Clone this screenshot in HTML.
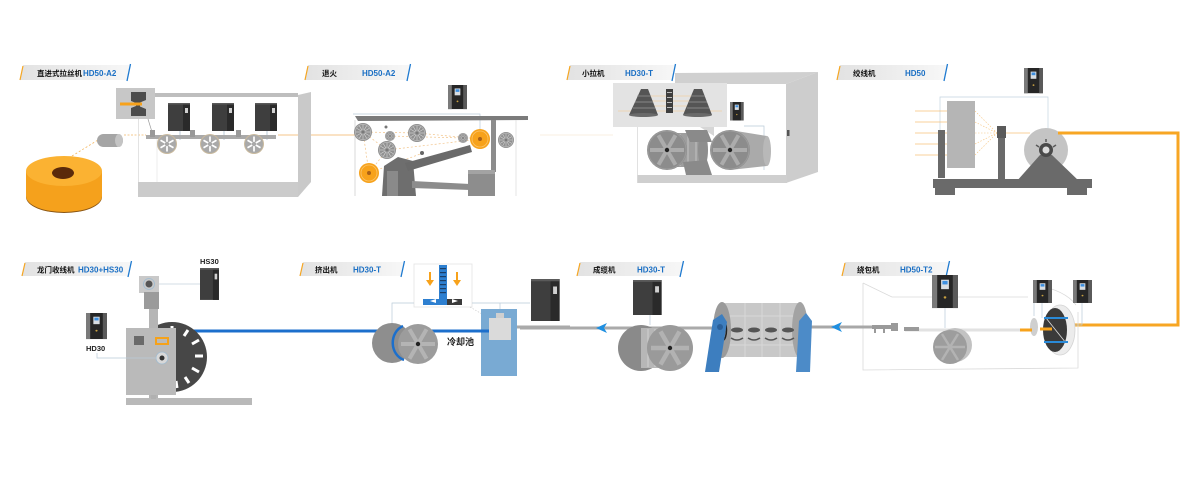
<!DOCTYPE html>
<html><head><meta charset="utf-8">
<style>
html,body{margin:0;padding:0;background:#fff;}
svg{display:block;}
text{font-family:"Liberation Sans","Noto Sans CJK SC",sans-serif;font-weight:bold;}
</style></head><body>
<svg width="1200" height="492" viewBox="0 0 1200 492" xmlns="http://www.w3.org/2000/svg">
<defs>
 <linearGradient id="lg" x1="0" x2="1"><stop offset="0" stop-color="#e2e2e2"/><stop offset="1" stop-color="#f7f7f7"/></linearGradient>
 <linearGradient id="lb" x1="0" x2="1"><stop offset="0" stop-color="#f5a623"/><stop offset="0.55" stop-color="#b8c4cc"/><stop offset="1" stop-color="#1f7ad0"/></linearGradient>
 <g id="inv">
  <rect x="0" y="0" width="20" height="28" fill="#262626"/>
  <rect x="0" y="0" width="4" height="28" fill="#7a7a7a"/>
  <rect x="16" y="0" width="4" height="28" fill="#5a5a5a"/>
  <rect x="7" y="4" width="6" height="8" fill="#d8dde2"/>
  <rect x="8" y="5" width="4" height="3" fill="#3d8fe0"/>
  <circle cx="10" cy="19" r="1" fill="#c8a040"/>
 </g>
 <g id="invD">
  <rect x="0" y="0" width="22" height="28" fill="#3e3e3e"/>
  <rect x="15" y="0" width="7" height="28" fill="#2a2a2a"/>
  <rect x="17" y="5" width="3" height="5" fill="#d0d0d0"/>
  <rect x="0" y="0" width="22" height="1.5" fill="#5a5a5a"/>
 </g>
 <g id="wh">
  <circle r="10" fill="#c9b99c"/><circle r="9" fill="#a9a9a9"/>
  <g stroke="#fff" stroke-width="1.7"><line x1="0" y1="-7.5" x2="0" y2="7.5"/><line x1="-6.5" y1="-3.75" x2="6.5" y2="3.75"/><line x1="6.5" y1="-3.75" x2="-6.5" y2="3.75"/></g>
  <circle r="2.2" fill="#a9a9a9"/>
 </g>
 <g id="ws">
  <circle r="10" fill="#909090"/><circle r="8.5" fill="none" stroke="#b8b8b8" stroke-width="0.8"/>
  <g stroke="#d4d4d4" stroke-width="0.7"><line x1="-8" y1="0" x2="8" y2="0"/><line x1="0" y1="-8" x2="0" y2="8"/><line x1="-6.9" y1="-4" x2="6.9" y2="4"/><line x1="-6.9" y1="4" x2="6.9" y2="-4"/><line x1="-4" y1="-6.9" x2="4" y2="6.9"/><line x1="4" y1="-6.9" x2="-4" y2="6.9"/></g>
  <circle r="2" fill="#7a7a7a"/>
 </g>
 <g id="wo">
  <circle r="10" fill="#f7a21b"/><circle r="8" fill="none" stroke="#fbc46a" stroke-width="0.8"/>
  <circle r="2" fill="#a86018"/>
 </g>
 <g id="dr">
  <circle r="20" fill="#8c8c8c"/><circle r="19" fill="none" stroke="#9c9c9c" stroke-width="1"/>
  <g stroke="#acacac" stroke-width="4"><line x1="-17" y1="0" x2="17" y2="0"/><line x1="-8.5" y1="-14.7" x2="8.5" y2="14.7"/><line x1="8.5" y1="-14.7" x2="-8.5" y2="14.7"/></g>
  <circle r="2.2" fill="#222"/>
 </g>
</defs>

<!-- ================= LABELS ================= -->
<g transform="translate(20,65)">
 <polygon points="3,0 110,0 107,15 0,15" fill="url(#lg)"/>
 <line x1="0" y1="15" x2="3" y2="1" stroke="#f5a623" stroke-width="1.2"/>
 <line x1="107" y1="16" x2="110.5" y2="-1" stroke="#1f7ad0" stroke-width="1.3"/>
 <line x1="0" y1="15.5" x2="107" y2="15.5" stroke="url(#lb)" stroke-width="1"/>
 <text x="17" y="11" font-size="7.5" fill="#111">直进式拉丝机</text>
 <text x="63" y="11" font-size="8" fill="#1a6fc4">HD50-A2</text>
</g>
<g transform="translate(305,65)">
 <polygon points="3,0 105,0 102,15 0,15" fill="url(#lg)"/>
 <line x1="0" y1="15" x2="3" y2="1" stroke="#f5a623" stroke-width="1.2"/>
 <line x1="102" y1="16" x2="105.5" y2="-1" stroke="#1f7ad0" stroke-width="1.3"/>
 <line x1="0" y1="15.5" x2="102" y2="15.5" stroke="url(#lb)" stroke-width="1"/>
 <text x="17" y="11" font-size="7.5" fill="#111">退火</text>
 <text x="57" y="11" font-size="8" fill="#1a6fc4">HD50-A2</text>
</g>
<g transform="translate(567,65)">
 <polygon points="3,0 108,0 105,15 0,15" fill="url(#lg)"/>
 <line x1="0" y1="15" x2="3" y2="1" stroke="#f5a623" stroke-width="1.2"/>
 <line x1="105" y1="16" x2="108.5" y2="-1" stroke="#1f7ad0" stroke-width="1.3"/>
 <line x1="0" y1="15.5" x2="105" y2="15.5" stroke="url(#lb)" stroke-width="1"/>
 <text x="15" y="11" font-size="7.5" fill="#111">小拉机</text>
 <text x="58" y="11" font-size="8" fill="#1a6fc4">HD30-T</text>
</g>
<g transform="translate(837,65)">
 <polygon points="3,0 110,0 107,15 0,15" fill="url(#lg)"/>
 <line x1="0" y1="15" x2="3" y2="1" stroke="#f5a623" stroke-width="1.2"/>
 <line x1="107" y1="16" x2="110.5" y2="-1" stroke="#1f7ad0" stroke-width="1.3"/>
 <line x1="0" y1="15.5" x2="107" y2="15.5" stroke="url(#lb)" stroke-width="1"/>
 <text x="16" y="11" font-size="7.5" fill="#111">绞线机</text>
 <text x="68" y="11" font-size="8" fill="#1a6fc4">HD50</text>
</g>
<g transform="translate(22,262)">
 <polygon points="3,0 109,0 106,14 0,14" fill="url(#lg)"/>
 <line x1="0" y1="14" x2="3" y2="1" stroke="#f5a623" stroke-width="1.2"/>
 <line x1="106" y1="15" x2="109.5" y2="-1" stroke="#1f7ad0" stroke-width="1.3"/>
 <line x1="0" y1="14.5" x2="106" y2="14.5" stroke="url(#lb)" stroke-width="1"/>
 <text x="15" y="10.5" font-size="7.5" fill="#111">龙门收线机</text>
 <text x="56" y="10.5" font-size="8" fill="#1a6fc4">HD30+HS30</text>
</g>
<g transform="translate(300,262)">
 <polygon points="3,0 104,0 101,14 0,14" fill="url(#lg)"/>
 <line x1="0" y1="14" x2="3" y2="1" stroke="#f5a623" stroke-width="1.2"/>
 <line x1="101" y1="15" x2="104.5" y2="-1" stroke="#1f7ad0" stroke-width="1.3"/>
 <line x1="0" y1="14.5" x2="101" y2="14.5" stroke="url(#lb)" stroke-width="1"/>
 <text x="15" y="10.5" font-size="7.5" fill="#111">挤出机</text>
 <text x="53" y="10.5" font-size="8" fill="#1a6fc4">HD30-T</text>
</g>
<g transform="translate(577,262)">
 <polygon points="3,0 106,0 103,14 0,14" fill="url(#lg)"/>
 <line x1="0" y1="14" x2="3" y2="1" stroke="#f5a623" stroke-width="1.2"/>
 <line x1="103" y1="15" x2="106.5" y2="-1" stroke="#1f7ad0" stroke-width="1.3"/>
 <line x1="0" y1="14.5" x2="103" y2="14.5" stroke="url(#lb)" stroke-width="1"/>
 <text x="16" y="10.5" font-size="7.5" fill="#111">成缆机</text>
 <text x="60" y="10.5" font-size="8" fill="#1a6fc4">HD30-T</text>
</g>
<g transform="translate(842,262)">
 <polygon points="3,0 107,0 104,14 0,14" fill="url(#lg)"/>
 <line x1="0" y1="14" x2="3" y2="1" stroke="#f5a623" stroke-width="1.2"/>
 <line x1="104" y1="15" x2="107.5" y2="-1" stroke="#1f7ad0" stroke-width="1.3"/>
 <line x1="0" y1="14.5" x2="104" y2="14.5" stroke="url(#lb)" stroke-width="1"/>
 <text x="15" y="10.5" font-size="7.5" fill="#111">绕包机</text>
 <text x="58" y="10.5" font-size="8" fill="#1a6fc4">HD50-T2</text>
</g>

<!-- ================= MACHINE 1: drawing ================= -->
<ellipse cx="64" cy="197" rx="38" ry="16" fill="#8a5512"/>
<path d="M26,171 L26,196 A38,16 0 0 0 102,196 L102,171 Z" fill="#f5a11c"/>
<ellipse cx="64" cy="171" rx="38" ry="15" fill="#fbb232"/>
<ellipse cx="63" cy="173" rx="11" ry="6" fill="#5b2a0a"/>
<line x1="72" y1="156" x2="98" y2="140" stroke="#f5b55a" stroke-width="0.8" stroke-dasharray="2,2"/>
<rect x="97" y="134" width="26" height="13" rx="6.5" fill="#a5a5a5"/>
<ellipse cx="119" cy="140.5" rx="4" ry="6.5" fill="#c4c4c4"/>
<line x1="124" y1="135" x2="146" y2="135" stroke="#f4b96a" stroke-width="0.8" stroke-dasharray="2,1.5"/>
<line x1="278" y1="135" x2="355" y2="135" stroke="#f3b060" stroke-width="0.8"/>

<rect x="153" y="93" width="145" height="4" fill="#bebebe"/>
<line x1="138.5" y1="95" x2="138.5" y2="182" stroke="#dcdcdc" stroke-width="0.8"/>
<line x1="157" y1="136" x2="157" y2="182" stroke="#e2e2e2" stroke-width="0.6"/>
<polygon points="298,95 311,92 311,182 298,197" fill="#c9c9c9"/>
<rect x="138" y="182" width="160" height="15" fill="#cbcbcb"/>

<rect x="116" y="88" width="39" height="31" fill="#c7c7c7"/>
<path d="M131,92 L146,92 L146,100 L140,102.5 L140,106.5 L146,109 L146,116 L131,116 L131,108 L136,106 L136,103 L131,101 Z" fill="#4c4c4c"/>
<rect x="120" y="102.5" width="22" height="3" fill="#f7a21b"/>
<line x1="148" y1="119" x2="152" y2="132" stroke="#9a9a9a" stroke-width="0.7"/>

<use href="#invD" transform="translate(168,103)"/>
<use href="#invD" transform="translate(212,103)"/>
<use href="#invD" transform="translate(255,103)"/>
<g stroke="#9fb8cc" stroke-width="0.7">
 <line x1="180" y1="131" x2="180" y2="140"/><line x1="224" y1="131" x2="224" y2="140"/><line x1="267" y1="131" x2="267" y2="140"/>
</g>
<rect x="146" y="135" width="130" height="4" fill="#a9a9a9"/>
<rect x="150" y="130" width="5" height="7" fill="#999"/>
<rect x="190" y="130" width="5" height="7" fill="#999"/>
<rect x="236" y="130" width="5" height="7" fill="#999"/>
<use href="#wh" transform="translate(167,144)"/>
<use href="#wh" transform="translate(210,144)"/>
<use href="#wh" transform="translate(254,144)"/>

<!-- ================= MACHINE 2: annealing ================= -->
<use href="#inv" transform="translate(448,85) scale(0.95,0.86)"/>
<polyline points="353,114 480,114 480,129" fill="none" stroke="#b9cad8" stroke-width="0.7"/>
<polygon points="355,116 528,116 528,120 358,121" fill="#7b7b7b"/>
<line x1="355" y1="120" x2="355" y2="196" stroke="#d0d0d0" stroke-width="0.8"/>
<line x1="516" y1="120" x2="516" y2="196" stroke="#dedede" stroke-width="0.8"/>
<rect x="491" y="120" width="5" height="52" fill="#8c8c8c"/>
<g stroke="#f2c48a" stroke-width="0.7" stroke-dasharray="2,2" fill="none">
 <line x1="363" y1="132" x2="387" y2="150"/><line x1="387" y1="150" x2="369" y2="173"/><line x1="363" y1="132" x2="369" y2="173"/>
 <line x1="363" y1="132" x2="417" y2="133"/><line x1="417" y1="133" x2="480" y2="139"/><line x1="387" y1="150" x2="480" y2="139"/>
 <line x1="369" y1="173" x2="423" y2="153"/><line x1="390" y1="136" x2="463" y2="138"/>
</g>
<polygon points="382,196 384,166 398,157 413,161 416,196" fill="#6e6e6e"/>
<rect x="387" y="171" width="11" height="25" fill="#8a8a8a"/>
<polygon points="405,163 470,145 472,152 408,171" fill="#6a6a6a"/>
<polygon points="412,181 470,184 470,190 412,188" fill="#8c8c8c"/>
<rect x="468" y="170" width="27" height="26" fill="#8d8d8d"/>
<rect x="468" y="170" width="27" height="4" fill="#a3a3a3"/>
<use href="#ws" transform="translate(363,132) scale(0.9)"/>
<use href="#ws" transform="translate(390,136) scale(0.5)"/>
<use href="#ws" transform="translate(417,133) scale(0.9)"/>
<use href="#ws" transform="translate(387,150) scale(0.9)"/>
<use href="#ws" transform="translate(463,138) scale(0.5)"/>
<use href="#ws" transform="translate(506,140) scale(0.8)"/>
<use href="#wo" transform="translate(480,139)"/>
<use href="#wo" transform="translate(369,173)"/>
<circle cx="386" cy="127" r="1.5" fill="#777"/>
<circle cx="422" cy="153" r="2" fill="#666"/>

<!-- ================= MACHINE 3: small drawing ================= -->
<line x1="540" y1="135" x2="613" y2="135" stroke="#f3e0c6" stroke-width="0.6"/>
<polygon points="675,73 818,72 786,84 675,84" fill="#d0d0d0"/>
<polygon points="786,84 818,72 818,172 786,183" fill="#cdcdcd"/>
<rect x="787" y="130" width="2.5" height="6" fill="#555"/>
<rect x="637" y="175" width="150" height="8" fill="#cfcfcf"/>
<line x1="637.5" y1="127" x2="637.5" y2="183" stroke="#dadada" stroke-width="0.8"/>
<rect x="613" y="83" width="114" height="44" fill="#e3e3e3"/>
<g stroke="#f5c68a" stroke-width="0.6">
 <line x1="618" y1="111" x2="722" y2="111"/><line x1="640" y1="106" x2="705" y2="106"/><line x1="643" y1="101" x2="700" y2="101"/><line x1="646" y1="96" x2="697" y2="96"/>
</g>
<polygon points="641,89 648,89 658,115 629,115" fill="#555"/>
<ellipse cx="643.5" cy="115" rx="14.5" ry="2" fill="#6a6a6a"/>
<g stroke="#9a9a9a" stroke-width="0.7"><line x1="637" y1="96" x2="651" y2="96"/><line x1="635" y1="102" x2="653" y2="102"/><line x1="633" y1="108" x2="655" y2="108"/></g>
<polygon points="694,89 702,89 712,115 683,115" fill="#555"/>
<ellipse cx="697.5" cy="115" rx="14.5" ry="2" fill="#6a6a6a"/>
<g stroke="#9a9a9a" stroke-width="0.7"><line x1="691" y1="96" x2="705" y2="96"/><line x1="689" y1="102" x2="707" y2="102"/><line x1="687" y1="108" x2="709" y2="108"/></g>
<rect x="666" y="89" width="7" height="24" fill="#3e3e3e"/>
<g fill="#bbb"><rect x="667" y="92" width="5" height="1"/><rect x="667" y="97" width="5" height="1"/><rect x="667" y="102" width="5" height="1"/><rect x="667" y="107" width="5" height="1"/></g>
<polygon points="700,127 714,127 714,136" fill="#d6d6d6"/>
<use href="#inv" transform="translate(730,102) scale(0.68,0.66)"/>
<polyline points="744,126 764,126 764,170" fill="none" stroke="#b9cad8" stroke-width="0.7"/>
<rect x="667" y="133" width="36" height="34" fill="#9e9e9e"/>
<g stroke="#bdbdbd" stroke-width="1.2"><line x1="680" y1="134" x2="680" y2="166"/><line x1="688" y1="134" x2="688" y2="166"/><line x1="696" y1="135" x2="696" y2="165"/></g>
<ellipse cx="703" cy="150" rx="5" ry="17" fill="#8e8e8e"/>
<polygon points="685,130 707,130 712,142 690,142" fill="#8a8a8a"/>
<polygon points="683,162 707,160 712,175 686,175" fill="#8a8a8a"/>
<polygon points="730,130 767,136 767,166 730,170" fill="#aaaaaa"/>
<ellipse cx="767" cy="151" rx="4" ry="15" fill="#b8b8b8"/>
<use href="#dr" transform="translate(667,150)"/>
<use href="#dr" transform="translate(730,150)"/>

<!-- ================= MACHINE 4: stranding ================= -->
<use href="#inv" transform="translate(1024,68) scale(0.95,0.9)"/>
<polyline points="940,130 940,97 1048,97 1048,130" fill="none" stroke="#c3d3df" stroke-width="0.7"/>
<g stroke="#f6c27a" stroke-width="0.8">
 <line x1="915" y1="111" x2="947" y2="111"/><line x1="915" y1="122" x2="947" y2="122"/><line x1="915" y1="133" x2="947" y2="133"/><line x1="915" y1="144" x2="947" y2="144"/><line x1="915" y1="155" x2="947" y2="155"/>
</g>
<rect x="938" y="130" width="7" height="48" fill="#6a6a6a"/>
<rect x="947" y="101" width="28" height="67" fill="#b5b5b5"/>
<g stroke="#f6c27a" stroke-width="0.6" stroke-dasharray="1.5,1.5">
 <line x1="975" y1="111" x2="997" y2="133"/><line x1="975" y1="122" x2="997" y2="133"/><line x1="975" y1="133" x2="997" y2="133"/><line x1="975" y1="144" x2="997" y2="133"/><line x1="975" y1="155" x2="997" y2="133"/>
</g>
<line x1="1005" y1="133" x2="1030" y2="133" stroke="#f6c27a" stroke-width="0.8"/>
<rect x="998" y="126" width="7" height="54" fill="#6a6a6a"/>
<rect x="997" y="126" width="9" height="12" fill="#5a5a5a"/>
<circle cx="1046" cy="150" r="22" fill="#c4c4c4"/>
<polygon points="1016,182 1040,155 1052,155 1080,182" fill="#6a6a6a"/>
<circle cx="1046" cy="150" r="7" fill="#4a4a4a"/>
<circle cx="1046" cy="150" r="3.5" fill="#dcdcdc"/>
<g stroke="#5a5a5a" stroke-width="1.5"><line x1="1046" y1="139" x2="1046" y2="142"/><line x1="1036" y1="145" x2="1039" y2="147"/><line x1="1056" y1="145" x2="1053" y2="147"/></g>
<rect x="933" y="179" width="159" height="9" fill="#6a6a6a"/>
<rect x="935" y="186" width="20" height="9" fill="#6a6a6a"/>
<rect x="1067" y="186" width="20" height="9" fill="#6a6a6a"/>

<!-- orange loop -->
<polyline points="1058,133 1178,133 1178,325 1066,325" fill="none" stroke="#f7a623" stroke-width="3"/>

<!-- ================= MACHINE 8: wrapping ================= -->
<g stroke="#dadada" stroke-width="0.8" fill="none">
 <path d="M863,283 L892,297 L1028,297"/>
 <path d="M863,283 L863,370 L1078,368 L1078,312"/>
 <path d="M1035,285 Q1065,290 1076,305"/>
</g>
<use href="#inv" transform="translate(932,275) scale(1.3,1.18)"/>
<use href="#inv" transform="translate(1033,280) scale(0.95,0.82)"/>
<use href="#inv" transform="translate(1073,280) scale(0.95,0.82)"/>
<g stroke="#b9cad8" stroke-width="0.7" fill="none">
 <line x1="945" y1="308" x2="945" y2="328"/>
 <polyline points="1042,303 1042,318"/>
 <polyline points="1082,303 1082,325 1068,325"/>
 <line x1="1034" y1="303" x2="1034" y2="316"/>
</g>
<line x1="905" y1="330" x2="1022" y2="330" stroke="#e2e2e2" stroke-width="3"/>
<line x1="808" y1="327" x2="872" y2="327" stroke="#a8a8a8" stroke-width="3"/>
<g fill="#9a9a9a">
 <rect x="872" y="325" width="22" height="4"/><rect x="874" y="329" width="2" height="4"/><rect x="883" y="329" width="2" height="4"/>
 <rect x="891" y="323" width="7" height="8"/><rect x="904" y="327" width="15" height="4"/>
</g>
<ellipse cx="955" cy="345" rx="17" ry="17" fill="#c2c2c2"/>
<circle cx="950" cy="347" r="17" fill="#9d9d9d"/>
<g stroke="#b3b3b3" stroke-width="2.5"><line x1="935" y1="347" x2="965" y2="347"/><line x1="942" y1="334" x2="958" y2="360"/><line x1="958" y1="334" x2="942" y2="360"/></g>
<ellipse cx="1034" cy="327" rx="4" ry="9" fill="#cfcfcf"/>
<line x1="1020" y1="330" x2="1032" y2="330" stroke="#f7a21b" stroke-width="3"/>
<ellipse cx="1060" cy="330" rx="15" ry="25" fill="#ececec" stroke="#d4d4d4" stroke-width="0.8"/>
<ellipse cx="1055" cy="330" rx="12" ry="22" fill="#3a3a3a"/>
<line x1="1040" y1="329" x2="1052" y2="329" stroke="#f7a21b" stroke-width="3"/>
<line x1="1046" y1="318" x2="1066" y2="343" stroke="#ddd" stroke-width="0.8"/>
<line x1="1044" y1="318" x2="1068" y2="318" stroke="#2a8ad8" stroke-width="2"/>
<line x1="1044" y1="342" x2="1068" y2="342" stroke="#2a8ad8" stroke-width="2"/>
<polygon points="831,327 842,322 839,327 842,332" fill="#1f8fe0"/>

<!-- ================= MACHINE 7: cabling ================= -->
<line x1="520" y1="328" x2="720" y2="328" stroke="#aaaaaa" stroke-width="3"/>
<polygon points="596,328 607,323 604,328 607,333" fill="#1f8fe0"/>
<use href="#invD" transform="translate(633,280) scale(1.3,1.25)"/>
<line x1="650" y1="315" x2="650" y2="325" stroke="#b9cad8" stroke-width="0.7"/>
<circle cx="641" cy="348" r="23" fill="#8a8a8a"/>
<rect x="641" y="328" width="28" height="40" fill="#b7b7b7"/>
<g stroke="#d0d0d0" stroke-width="1"><line x1="648" y1="329" x2="648" y2="367"/><line x1="655" y1="329" x2="655" y2="367"/><line x1="662" y1="329" x2="662" y2="367"/></g>
<circle cx="670" cy="348" r="23" fill="#9a9a9a"/>
<g stroke="#b2b2b2" stroke-width="4.5"><line x1="651" y1="348" x2="689" y2="348"/><line x1="660.5" y1="331.5" x2="679.5" y2="364.5"/><line x1="679.5" y1="331.5" x2="660.5" y2="364.5"/></g>
<circle cx="670" cy="348" r="2.2" fill="#222"/>

<rect x="722" y="303" width="78" height="54" fill="#c8c8c8"/>
<g stroke="#d8d8d8" stroke-width="1"><line x1="722" y1="316" x2="800" y2="316"/><line x1="722" y1="345" x2="800" y2="345"/><line x1="745" y1="303" x2="745" y2="357"/><line x1="762" y1="303" x2="762" y2="357"/><line x1="780" y1="303" x2="780" y2="357"/></g>
<ellipse cx="800" cy="330" rx="8" ry="28" fill="#a3a3a3"/>
<ellipse cx="722" cy="330" rx="9" ry="28" fill="#9a9a9a"/>
<ellipse cx="723" cy="330" rx="3.5" ry="10" fill="none" stroke="#222" stroke-width="1.5"/>
<g fill="#555">
 <ellipse cx="737" cy="330" rx="6" ry="2.5"/><ellipse cx="754" cy="330" rx="6" ry="2.5"/><ellipse cx="771" cy="330" rx="6" ry="2.5"/><ellipse cx="788" cy="330" rx="6" ry="2.5"/>
</g>
<g fill="none" stroke="#555" stroke-width="1.5">
 <path d="M731,338 Q737,342 743,338"/><path d="M748,338 Q754,342 760,338"/><path d="M765,338 Q771,342 777,338"/><path d="M782,338 Q788,342 794,338"/>
</g>
<polygon points="705,372 713,320 722,314 727,322 719,372" fill="#3d7ebf"/>
<circle cx="720" cy="327" r="3" fill="#2a5f99"/>
<polygon points="796,372 799,321 806,313 812,321 810,372" fill="#4c8bc8"/>

<!-- ================= MACHINE 6: extruder ================= -->
<rect x="414" y="264" width="58" height="43" fill="#fff" stroke="#e3e3e3" stroke-width="0.8"/>
<rect x="439" y="265" width="8" height="35" fill="#2d7fd0"/>
<g fill="#1c3e66"><rect x="440" y="268" width="6" height="1.2"/><rect x="440" y="272" width="6" height="1.2"/><rect x="440" y="276" width="6" height="1.2"/><rect x="440" y="280" width="6" height="1.2"/><rect x="440" y="284" width="6" height="1.2"/><rect x="440" y="288" width="6" height="1.2"/><rect x="440" y="292" width="6" height="1.2"/></g>
<rect x="423" y="299" width="24" height="6" fill="#2d7fd0"/>
<rect x="447" y="299" width="15" height="6" fill="#3a3a3a"/>
<polygon points="430,301 436,299 436,303" fill="#fff"/>
<polygon points="458,301 452,299 452,303" fill="#fff"/>
<g fill="#f7a21b"><rect x="429" y="272" width="2" height="9"/><polygon points="426,280 434,280 430,286"/><rect x="456" y="272" width="2" height="9"/><polygon points="453,280 461,280 457,286"/></g>
<g stroke="#b9cad8" stroke-width="0.7" fill="none">
 <polyline points="414,303 392,303 392,323"/>
 <polyline points="472,303 530,303"/>
 <polyline points="500,303 500,313"/>
</g>
<line x1="470" y1="307" x2="489" y2="318" stroke="#c8c8c8" stroke-width="0.7" stroke-dasharray="1.5,1.5"/>
<rect x="481" y="309" width="36" height="67" fill="#79aad3"/>
<rect x="489" y="318" width="22" height="22" fill="#dadada"/>
<rect x="496" y="313" width="8" height="5" fill="#cfcfcf"/>
<line x1="517" y1="327" x2="570" y2="327" stroke="#aaaaaa" stroke-width="3"/>
<use href="#invD" transform="translate(531,279) scale(1.3,1.5)"/>
<line x1="185" y1="331" x2="489" y2="331" stroke="#1c6fcc" stroke-width="3"/>
<circle cx="392" cy="343" r="20" fill="#8e8e8e"/>
<path d="M403,326 A16,18 0 0 0 404,360" fill="none" stroke="#1c6fcc" stroke-width="2.5"/>
<circle cx="418" cy="344" r="20" fill="#9c9c9c"/>
<g stroke="#b4b4b4" stroke-width="4"><line x1="401" y1="344" x2="435" y2="344"/><line x1="409.5" y1="329.3" x2="426.5" y2="358.7"/><line x1="426.5" y1="329.3" x2="409.5" y2="358.7"/></g>
<circle cx="418" cy="344" r="2.2" fill="#222"/>
<text x="447" y="345" font-size="9" fill="#222">冷却池</text>

<!-- ================= MACHINE 5: gantry take-up ================= -->
<use href="#invD" transform="translate(200,268) scale(0.86,1.14)"/>
<text x="200" y="264" font-size="7.5" fill="#222">HS30</text>
<line x1="159" y1="284" x2="200" y2="284" stroke="#c4d2de" stroke-width="0.7"/>
<rect x="139" y="276" width="20" height="17" fill="#c9c9c9"/>
<circle cx="149" cy="284" r="5.5" fill="none" stroke="#9fbbd0" stroke-width="0.8"/>
<circle cx="149" cy="284" r="3.5" fill="#555"/>
<rect x="144" y="292" width="15" height="17" fill="#9b9b9b"/>
<circle cx="172" cy="357" r="35" fill="#474747"/>
<g stroke="#fff" stroke-width="3">
 <line x1="172" y1="333" x2="172" y2="326"/>
 <line x1="184" y1="336" x2="188" y2="330"/>
 <line x1="192" y1="344" x2="199" y2="340"/>
 <line x1="195" y1="356" x2="203" y2="356"/>
 <line x1="192" y1="368" x2="199" y2="372"/>
 <line x1="185" y1="377" x2="189" y2="383"/>
 <line x1="176" y1="381" x2="177" y2="388"/>
</g>
<rect x="149" y="309" width="9" height="90" fill="#b5b5b5"/>
<rect x="126" y="328" width="50" height="67" fill="#bababa"/>
<rect x="134" y="336" width="10" height="9" fill="#6a6a6a"/>
<rect x="156" y="338" width="12" height="6" fill="none" stroke="#f5a21b" stroke-width="2"/>
<circle cx="162" cy="358" r="6" fill="#d8d8d8" stroke="#9fbbd0" stroke-width="0.8"/>
<circle cx="162" cy="358" r="2.5" fill="#333"/>
<rect x="126" y="398" width="126" height="7" fill="#b9b9b9"/>
<rect x="151" y="395" width="5" height="4" fill="#b0b0b0"/>
<use href="#inv" transform="translate(86,313) scale(1.05,0.93)"/>
<text x="86" y="351" font-size="7.5" fill="#222">HD30</text>
<polyline points="97,353 97,358 156,358" fill="none" stroke="#b9cad8" stroke-width="0.7"/>
</svg>
</body></html>
